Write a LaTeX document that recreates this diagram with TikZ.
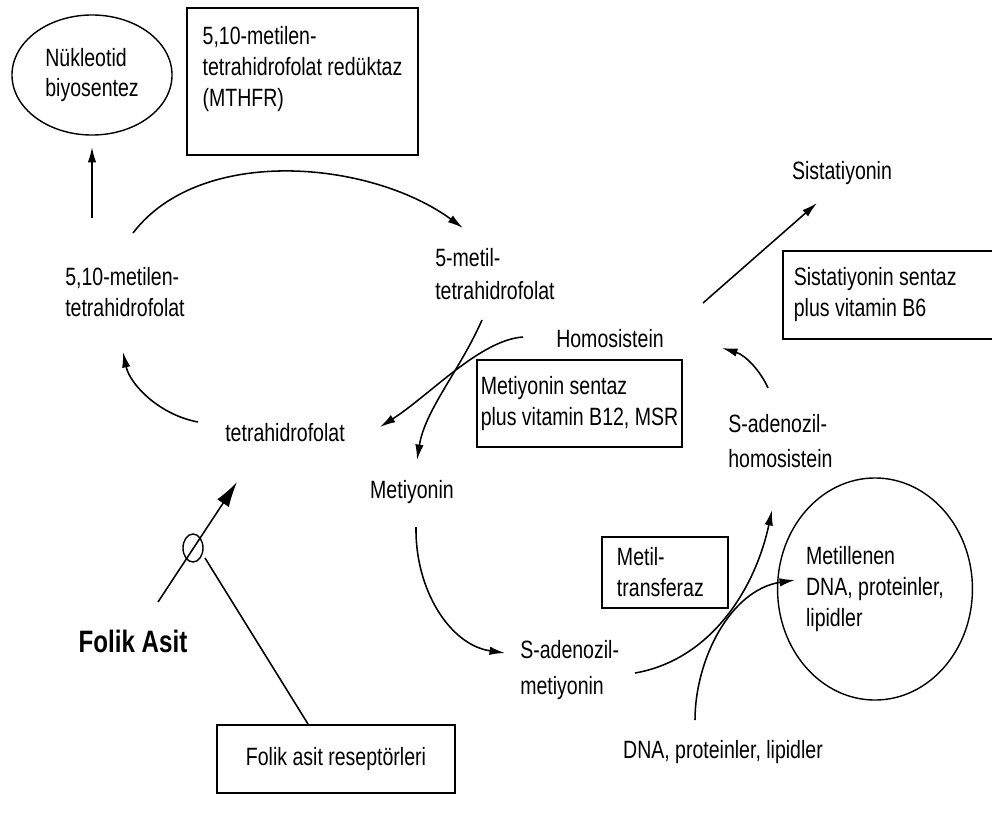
\documentclass[tikz,border=0pt]{standalone}
\usepackage{fontspec}
\setmainfont{Liberation Sans}[FakeStretch=0.78]
\usetikzlibrary{arrows.meta,shapes.geometric}

\begin{document}
\begin{tikzpicture}[x=0.025cm,y=-0.025cm,>={Latex[length=11pt,width=6pt]}]
  \tikzstyle{every node}=[inner sep=0pt,align=left,font=\fontsize{17.8}{22}\selectfont]
  \tikzstyle{box}=[draw,line width=1.2pt]
  \tikzstyle{oval}=[draw,ellipse,line width=1pt]
  \tikzstyle{line}=[line width=1.1pt]
  \useasboundingbox (0,0) rectangle (992,815);

  \node[oval,minimum width=4cm,minimum height=3cm] (nuk) at (92,75) {Nükleotid\\biyosentez};
  \node[box,minimum width=5.775cm,minimum height=3.675cm] (mthfr) at (302.5,81.5)
       {5,10-metilen-\\tetrahidrofolat redüktaz\\(MTHFR)\\ ~};
  \node[anchor=west] (mtthf) at (65,292) {5,10-metilen-\\tetrahidrofolat};
  \node[anchor=west] (mthf) at (435,274) {5-metil-\\[2pt]tetrahidrofolat};
  \node (homo) at (610,339) {Homosistein};
  \node[box,minimum width=5.125cm,minimum height=2.175cm] (ms) at (579.5,403.5)
       {Metiyonin sentaz\\plus vitamin B12, MSR};
  \node (thf) at (285,433) {tetrahidrofolat};
  \node (met) at (412,492) {Metiyonin};
  \node[anchor=west] (sam) at (520,670) {S-adenozil-\\[3pt]metiyonin};
  \node[anchor=west] (sah) at (728,441) {S-adenozil-\\[3pt]homosistein};
  \node (cysta) at (842,173) {Sistatiyonin};
  \node[box,anchor=north west,minimum width=5.45cm,minimum height=2.2cm,text width=4.9cm,align=flush left] (cs) at (782,250)
       {Sistatiyonin sentaz\\plus vitamin B6};
  \node[box,minimum width=3.15cm,minimum height=1.775cm,text width=2.4cm,align=flush left] (mt) at (665,572.5)
       {Metil-\\transferaz};
  \node[oval,minimum width=4cm,minimum height=5.55cm] (meth) at (875,589)
       {Metillenen\\DNA, proteinler,\\lipidler};
  \node (dna) at (723,752) {DNA, proteinler, lipidler};
  \node[font=\fontsize{22}{26}\selectfont\bfseries] (folik) at (133,641) {Folik Asit};
  \node[box,minimum width=5.95cm,minimum height=1.7cm] (far) at (336,759) {Folik asit reseptörleri};
  \node[oval,minimum width=0.5cm,minimum height=0.7cm] (ring) at (193,548) {};

  \coordinate (nukfrom) at (92,218);
  \coordinate (nukto) at (92,147);
  \coordinate (topfrom) at (133,233);
  \coordinate (topto) at (463,228);
  \coordinate (leftfrom) at (198,422);
  \coordinate (leftto) at (123,352);
  \coordinate (mthffrom) at (482,320);
  \coordinate (metto) at (417,460);
  \coordinate (homofrom) at (523,337);
  \coordinate (thfto) at (380,427);
  \coordinate (metfrom) at (416,527);
  \coordinate (samto) at (505,653);
  \coordinate (samfrom) at (635,673);
  \coordinate (sahto) at (772,510);
  \coordinate (dnafrom) at (695,720);
  \coordinate (methto) at (795,580);
  \coordinate (sahfrom) at (768,388);
  \coordinate (homoto) at (722,348);
  \coordinate (cystafrom) at (703,303);
  \coordinate (cystato) at (817,203);
  \coordinate (folikfrom) at (158,602);
  \coordinate (folikto) at (237,482);
  \coordinate (ringout) at (205,558);
  \coordinate (farin) at (308,724);

  \draw[line,->] (nukfrom) -- (nukto);
  \draw[line,->] (topfrom) .. controls (200,145) and (370,160) .. (topto);
  \draw[line,->] (leftfrom) .. controls (160,415) and (130,385) .. (leftto);
  \draw[line,->] (mthffrom) .. controls (460,370) and (425,410) .. (metto);
  \draw[line,->] (homofrom) .. controls (480,340) and (430,395) .. (thfto);
  \draw[line,->] (metfrom) .. controls (415,590) and (450,645) .. (samto);
  \draw[line,->] (samfrom) .. controls (710,660) and (755,590) .. (sahto);
  \draw[line,->] (dnafrom) .. controls (695,660) and (730,590) .. (methto);
  \draw[line,->] (sahfrom) .. controls (760,370) and (745,355) .. (homoto);
  \draw[line,->] (cystafrom) -- (cystato);
  \draw[line,-{Latex[length=18pt,width=10pt]}] (folikfrom) -- (folikto);
  \draw[line] (ringout) -- (farin);
\end{tikzpicture}
\end{document}
